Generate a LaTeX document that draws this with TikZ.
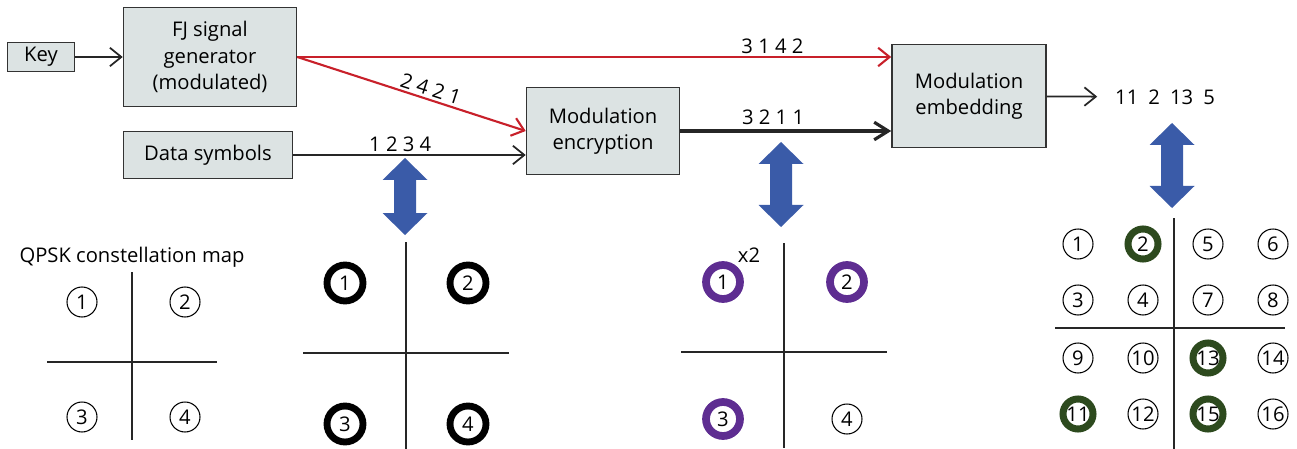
\documentclass[tikz,border=0pt]{standalone}
\usepackage{fontspec}
\setmainfont{Open Sans}
\usetikzlibrary{arrows.meta,positioning}
\definecolor{boxgray}{HTML}{DCE3E3}
\definecolor{fjred}{HTML}{C8202A}
\definecolor{swapblue}{HTML}{3A5BA8}
\definecolor{mappurple}{HTML}{5E2D91}
\definecolor{mapgreen}{HTML}{2D4A1E}
\tikzstyle{block}=[
	rectangle,
	draw=black!80,
	line width=0.9pt,
	fill=boxgray,
	align=center,
	inner sep=0pt,
	font=\fontsize{11.5}{15}\selectfont
]
\tikzstyle{flow}=[
	-{Straight Barb[length=6.5pt,width=10.5pt]},
	line width=1pt,
	draw=black!85
]
\tikzstyle{redflow}=[flow, draw=fjred, line width=1.2pt]
\tikzstyle{heavyflow}=[
	-{Straight Barb[length=8pt,width=10pt,line width=1.8pt]},
	line width=1.8pt,
	draw=black!85
]
\tikzstyle{seq}=[font=\fontsize{11.5}{14}\selectfont, inner sep=1.5pt]
\tikzstyle{axis}=[line width=0.7pt, draw=black!85]
\tikzstyle{plainpt}=[
	circle,
	draw=black,
	inner sep=0pt,
	minimum size=0.6cm,
	line width=0.6pt,
	font=\fontsize{11.5}{14}\selectfont
]
\tikzstyle{blackpt}=[plainpt, minimum size=0.72cm, line width=3.9pt]
\tikzstyle{purplept}=[plainpt, draw=mappurple, minimum size=0.68cm, line width=4.4pt]
\tikzstyle{greenpt}=[plainpt, draw=mapgreen, minimum size=0.6cm, line width=4pt]
\tikzstyle{swap}=[fill=swapblue]

\begin{document}
\begin{tikzpicture}[x=0.02cm, y=-0.02cm]
\useasboundingbox (0,0) rectangle (1297,449);

% processing chain
\node [block, minimum width=1.34cm, minimum height=0.58cm] (Key) at (41,57) {Key};
\node [block, minimum width=3.46cm, minimum height=1.98cm] (FJ) at (210,57) {FJ signal\\generator\\(modulated)};
\node [block, minimum width=3.38cm, minimum height=0.94cm] (Data) at (208,155) {Data symbols};
\node [block, minimum width=3.06cm, minimum height=1.74cm] (Encrypt) at (603,131) {Modulation\\encryption};
\node [block, minimum width=3.08cm, minimum height=2.06cm] (Embed) at (969,96) {Modulation\\embedding};
\node [seq] (Out) at (1165,97) {11\hspace{0.5em}2\hspace{0.5em}13\hspace{0.5em}5};

\draw [flow] (Key) -- (FJ);
\draw [redflow] (FJ.east) -- (FJ.east -| Embed.west)
	node [seq, above, pos=0.8] {3 1 4 2};
\draw [redflow] (FJ.east) -- (Encrypt.west)
	node [seq, sloped, above, pos=0.57] {2 4 2 1};
\draw [flow] (Data.east) -- (Data.east -| Encrypt.west)
	node [seq, above, pos=0.46] {1 2 3 4};
\draw [heavyflow] (Encrypt.east) -- (Encrypt.east -| Embed.west)
	node [seq, above, pos=0.44, yshift=1pt] {3 2 1 1};
\draw [flow, shorten >=0.3cm] (Embed) -- (Out);

% mapping arrows
\foreach \c/\t/\b in {405/158/235, 781/142/227, 1172/123/208}
	\fill [swap] (\c,\t) -- ++(22.5,22) -- ++(-11.5,0) -- (\c+11,\b-22) -- ++(11.5,0)
		-- (\c,\b) -- ++(-22.5,-22) -- ++(11.5,0) -- (\c-11,\t+22) -- ++(-11.5,0) -- cycle;

% QPSK constellation map
\node [seq] (QTitle) at (132,257) {QPSK constellation map};
\draw [axis] (132,272) -- (132,440);
\draw [axis] (47,362) -- (217,362);
\node [plainpt] (q1) at (82,302) {1};
\node [plainpt] (q2) at (185,302) {2};
\node [plainpt] (q3) at (82,417) {3};
\node [plainpt] (q4) at (185,417) {4};

% data symbols
\draw [axis, line width=1.1pt] (406,242) -- (406,449);
\draw [axis] (303,353) -- (509,353);
\node [blackpt] (d1) at (345,283) {1};
\node [blackpt] (d2) at (468,283) {2};
\node [blackpt] (d3) at (345,424) {3};
\node [blackpt] (d4) at (468,424) {4};

% encrypted symbols
\draw [axis] (784,243) -- (784,448);
\draw [axis] (681,352) -- (887,352);
\node [purplept] (e1) at (723,282) {1};
\node [purplept] (e2) at (847,282) {2};
\node [purplept] (e3) at (723,419) {3};
\node [plainpt] (e4) at (847,419) {4};
\node [seq] (Twice) at (749,255) {x2};

% embedded 16-point map
\draw [axis, line width=1.1pt] (1174,218) -- (1174,449);
\draw [axis, line width=0.9pt] (1055,328) -- (1285,328);
\foreach \n/\x/\y/\s in {1/1078/244/plainpt, 2/1143/244/greenpt, 5/1208/244/plainpt, 6/1273/244/plainpt,
	3/1078/300/plainpt, 4/1143/300/plainpt, 7/1208/300/plainpt, 8/1273/300/plainpt,
	9/1078/358/plainpt, 10/1143/358/plainpt, 13/1208/358/greenpt, 14/1273/358/plainpt,
	11/1078/414/greenpt, 12/1143/414/plainpt, 15/1208/414/greenpt, 16/1273/414/plainpt}
	\node [\s] (m\n) at (\x,\y) {\n};
\end{tikzpicture}
\end{document}
